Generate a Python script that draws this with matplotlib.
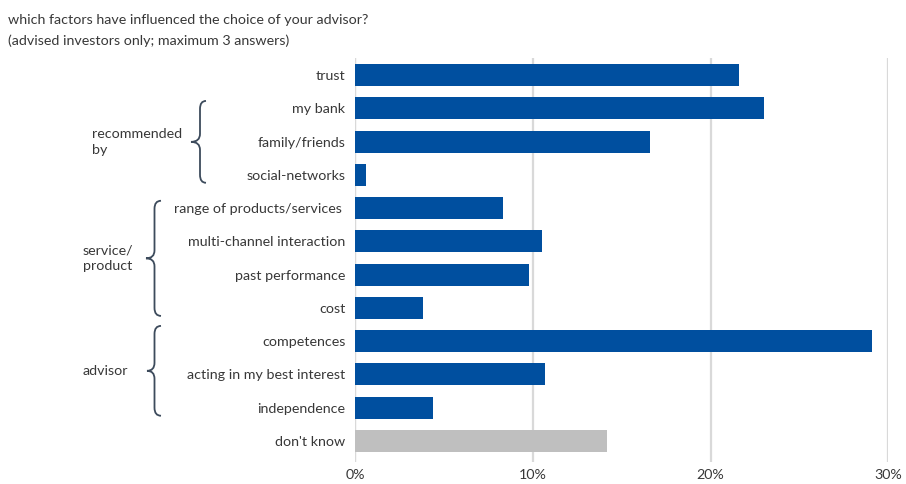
import matplotlib
matplotlib.use("Agg")
import matplotlib.pyplot as plt
from matplotlib.path import Path
from matplotlib.patches import PathPatch
from matplotlib.transforms import blended_transform_factory
import numpy as np

plt.rcParams['font.family'] = ['Lato', 'DejaVu Sans']

# Survey answers (share of advised investors, %)
categories = [
    "trust", "my bank", "family/friends", "social-networks",
    "range of products/services ", "multi-channel interaction",
    "past performance", "cost",
    "competences", "acting in my best interest", "independence",
    "don't know",
]
values = [21.6, 23.0, 16.6, 0.6, 8.3, 10.5, 9.8, 3.8, 29.1, 10.7, 4.4, 14.2]
xticks = [0, 10, 20, 30]
xtick_labels = ["0%", "10%", "20%", "30%"]

# Groups of answers marked with a brace: (label, first index, last index)
groups = [
    ("recommended\nby", 1, 3),
    ("service/\nproduct", 4, 7),
    ("advisor", 8, 10),
]

BLUE = "#004f9f"
GREY = "#bfbfbf"
TEXT = "#383838"
GRID = "#d9d9d9"
BRACE = "#3d4b5c"
FS = 10.3

W, H = 906, 484
fig = plt.figure(figsize=(W / 100, H / 100), dpi=100)
ax = fig.add_axes([355 / W, 1 - 462 / H, (888.3 - 355) / W, (462 - 58) / H])

y = np.arange(len(categories))
colors = [GREY if c == "don't know" else BLUE for c in categories]
ax.barh(y, values, height=0.66, color=colors, zorder=3)

ax.set_xlim(0, 30)
ax.set_ylim(11.63, -0.51)
ax.set_xticks(xticks)
ax.set_xticklabels(xtick_labels)
ax.set_yticks(y)
ax.set_yticklabels(categories)
ax.tick_params(axis="both", length=0, labelsize=FS, colors=TEXT)
ax.tick_params(axis="x", pad=5)
ax.tick_params(axis="y", pad=7)
for s in ax.spines.values():
    s.set_visible(False)
ax.grid(axis="x", color=GRID, linewidth=1.6, zorder=0)
ax.axvline(0, color=GRID, linewidth=1.6, zorder=1)

fig.text(8 / W, 1 - 20 / H, "which factors have influenced the choice of your advisor?",
         fontsize=FS, color=TEXT, va="center", ha="left")
fig.text(8 / W, 1 - 41 / H, "(advised investors only; maximum 3 answers)",
         fontsize=FS, color=TEXT, va="center", ha="left")

# Curly braces: x in figure pixels, y in category units
tr = blended_transform_factory(fig.transFigure, ax.transData)


def brace(x_line, x_hook, x_tip, y0, y1, ym, r=0.24):
    fx = lambda px: px / W
    verts = [
        (fx(x_hook), y0), (fx(x_line), y0), (fx(x_line), y0 + r),
        (fx(x_line), ym - r),
        (fx(x_line), ym), (fx(x_tip), ym),
        (fx(x_line), ym), (fx(x_line), ym + r),
        (fx(x_line), y1 - r),
        (fx(x_line), y1), (fx(x_hook), y1),
    ]
    codes = [Path.MOVETO, Path.CURVE3, Path.CURVE3, Path.LINETO,
             Path.CURVE3, Path.CURVE3, Path.CURVE3, Path.CURVE3,
             Path.LINETO, Path.CURVE3, Path.CURVE3]
    fig.add_artist(PathPatch(Path(verts, codes), transform=tr, fill=False,
                             edgecolor=BRACE, linewidth=1.3))


brace_x = {"recommended\nby": (200, 206, 191), "service/\nproduct": (154.5, 161, 146),
           "advisor": (154.5, 161, 147)}
label_x = {"recommended\nby": 92, "service/\nproduct": 83, "advisor": 83}
for label, i0, i1 in groups:
    y0, y1 = i0 - 0.22, i1 + 0.24
    if label == "advisor":
        y0 = i0 - 0.46
    ym = (y0 + y1) / 2
    xl, xh, xt = brace_x[label]
    brace(xl, xh, xt, y0, y1, ym)
    fig.text(label_x[label] / W, ym, label, transform=tr, fontsize=FS, color=TEXT,
             ha="left", va="center", linespacing=1.4)

fig.savefig("out.png", dpi=100)
